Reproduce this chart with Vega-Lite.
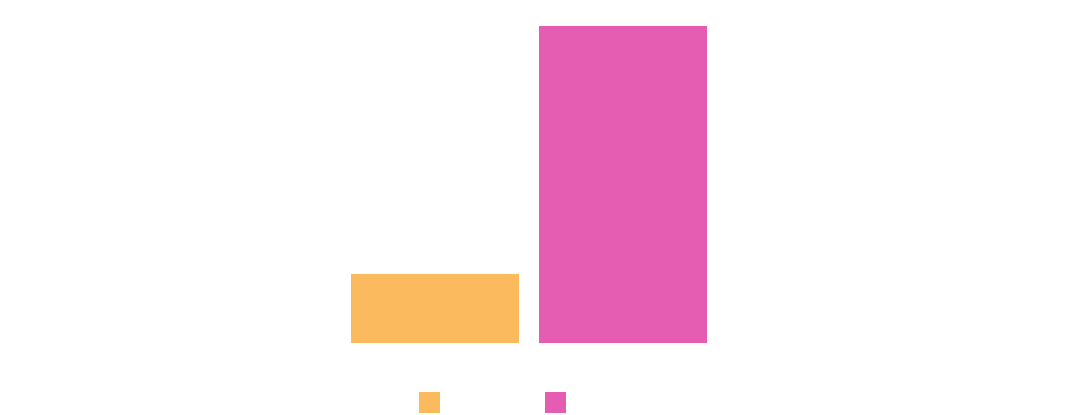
{
  "$schema": "https://vega.github.io/schema/vega-lite/v6.json",
  "autosize": "none",
  "width": 356,
  "height": 317,
  "padding": {"left": 351, "top": 26, "right": 371, "bottom": 72},
  "background": "#ffffff",
  "data": {"values": [
    {"category": "A", "value": 21.8},
    {"category": "B", "value": 100}
  ]},
  "mark": {"type": "bar"},
  "encoding": {
    "x": {"field": "category", "type": "nominal", "axis": null, "scale": {"paddingInner": 0.1064, "paddingOuter": 0}},
    "y": {"field": "value", "type": "quantitative", "axis": null, "scale": {"domain": [0, 100], "nice": false}},
    "color": {
      "field": "category", "type": "nominal",
      "scale": {"range": ["#fbba5e", "#e55db2"]},
      "legend": {
        "orient": "none", "legendX": 68, "legendY": 366, "direction": "horizontal",
        "title": null, "padding": 0, "symbolType": "square", "symbolSize": 441,
        "symbolStrokeWidth": 0, "symbolOpacity": 1, "labelColor": "#ffffff",
        "labelFontSize": 10, "columnPadding": 94
      }
    }
  },
  "config": {"view": {"stroke": null}}
}
